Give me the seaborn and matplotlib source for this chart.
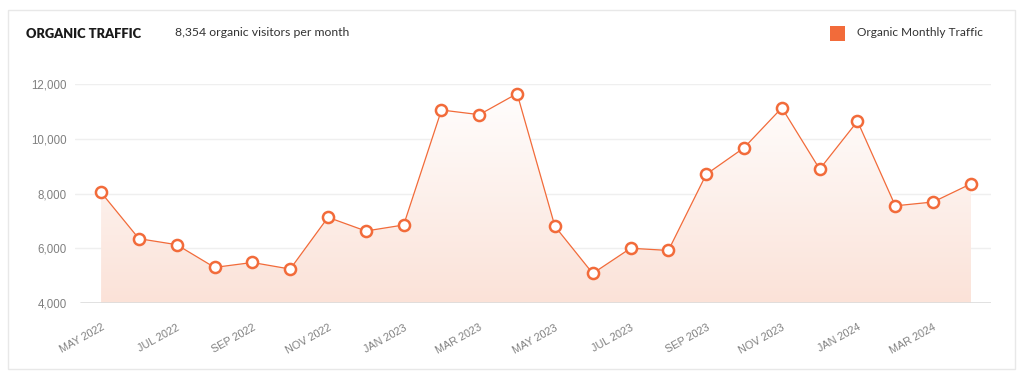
import matplotlib
matplotlib.use('Agg')
import matplotlib.pyplot as plt
from matplotlib.patches import Rectangle
import numpy as np
import pandas as pd
import seaborn as sns


months = ['MAY 2022', 'JUN 2022', 'JUL 2022', 'AUG 2022', 'SEP 2022', 'OCT 2022',
          'NOV 2022', 'DEC 2022', 'JAN 2023', 'FEB 2023', 'MAR 2023', 'APR 2023',
          'MAY 2023', 'JUN 2023', 'JUL 2023', 'AUG 2023', 'SEP 2023', 'OCT 2023',
          'NOV 2023', 'DEC 2023', 'JAN 2024', 'FEB 2024', 'MAR 2024', 'APR 2024']
traffic = [8040, 6350, 6130, 5300, 5480, 5240,
           7130, 6630, 6850, 11050, 10880, 11650,
           6800, 5080, 6000, 5920, 8700, 9670,
           11130, 8890, 10640, 7550, 7690, 8354]
y_ticks = [4000, 6000, 8000, 10000, 12000]

ORANGE = '#F26B3A'

df = pd.DataFrame({'idx': range(len(months)), 'month': months, 'traffic': traffic})

sns.set_style('white')
plt.rcParams['font.family'] = ['Liberation Sans', 'DejaVu Sans']

fig = plt.figure(figsize=(10.24, 3.78), dpi=100)
# card outline
fig.patches.append(Rectangle((8 / 1024, 1 - 369 / 378), 1007 / 1024, 359 / 378,
                             transform=fig.transFigure, facecolor='none',
                             edgecolor='#E8E8E8', linewidth=1, zorder=-1))

ax = fig.add_axes([75 / 1024, 1 - 303 / 378, 916 / 1024, 219 / 378])
ax.set_facecolor('none')

# gradient fill under the line
poly = ax.fill_between(df['idx'], df['traffic'], 4000, facecolor='none', edgecolor='none')
grad = np.linspace(0, 1, 256).reshape(-1, 1)
cmap = matplotlib.colors.LinearSegmentedColormap.from_list('g', ['#FFFFFF', '#FBE2D8'])
im = ax.imshow(grad, extent=[0, len(months) - 1, 4000, 12000], aspect='auto',
               cmap=cmap, origin='upper', zorder=1)
im.set_clip_path(poly.get_paths()[0], transform=ax.transData)

for y in y_ticks[1:]:
    ax.axhline(y, color='#EFEFEF', linewidth=1, zorder=0.5)
ax.axhline(4000, color='#DCDCDC', linewidth=1.2, zorder=2, xmin=6 / 916)

sns.lineplot(data=df, x='idx', y='traffic', ax=ax, color=ORANGE, linewidth=0.9,
             marker='o', markersize=8, markerfacecolor='white',
             markeredgecolor=ORANGE, markeredgewidth=1.8, zorder=3, clip_on=False)

ax.set_xlim(-0.69, 23.53)
ax.set_ylim(4000, 12000)
ax.set_yticks(y_ticks)
ax.set_yticklabels([f'{v:,}' for v in y_ticks])
ax.set_xticks(df['idx'][::2])
ax.set_xticklabels(df['month'][::2], rotation=29, ha='right', rotation_mode='anchor')
ax.tick_params(axis='both', length=0, labelcolor='#808080')
ax.tick_params(axis='x', pad=14, labelsize=7.8)
ax.tick_params(axis='y', pad=6, labelsize=8.3)
ax.set_xlabel('')
ax.set_ylabel('')
sns.despine(ax=ax, left=True, bottom=True)

fig.text(26 / 1024, 1 - 34 / 378, 'ORGANIC TRAFFIC', fontsize=9.3, fontweight='heavy',
         color='#1A1A1A', va='center', family=['Lato', 'DejaVu Sans'])
fig.text(175 / 1024, 1 - 33 / 378, '8,354 organic visitors per month', fontsize=8.8,
         color='#333333', va='center', family=['Lato', 'DejaVu Sans'])
fig.patches.append(Rectangle((830 / 1024, 1 - 41 / 378), 15 / 1024, 15 / 378,
                             transform=fig.transFigure, facecolor=ORANGE,
                             edgecolor='none'))
fig.text(857 / 1024, 1 - 33 / 378, 'Organic Monthly Traffic', fontsize=8.6,
         color='#333333', va='center', family=['Lato', 'DejaVu Sans'])

fig.savefig('out.png', dpi=100, facecolor='white')
